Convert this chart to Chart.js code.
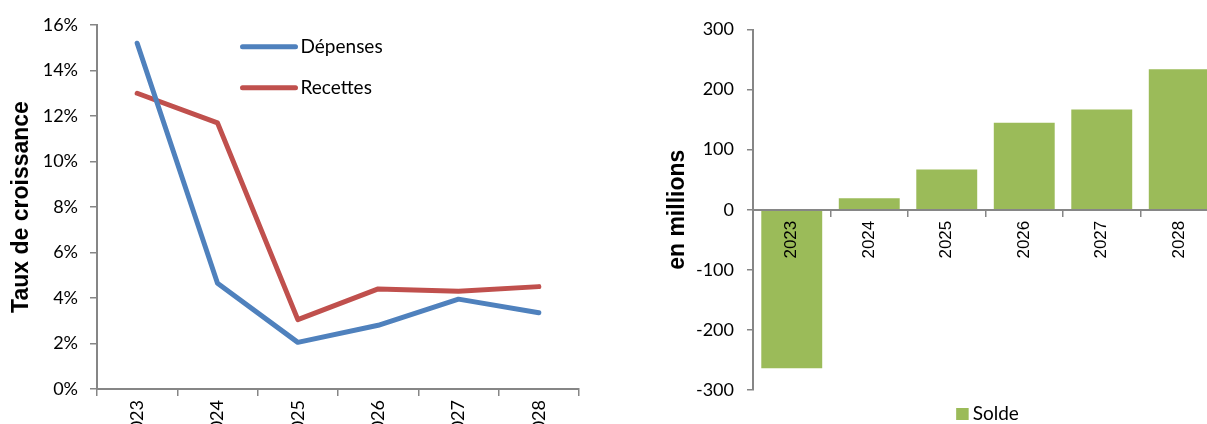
<!DOCTYPE html>
<html>
<head>
<meta charset="utf-8">
<script src="https://cdn.jsdelivr.net/npm/chart.js@4"></script>
<style>
  html, body { margin: 0; padding: 0; background: #fff; overflow: hidden; width: 1207px; height: 424px; }
  canvas { position: absolute; top: 0; }
  #taux { left: 0; }
  #solde { left: 640px; }
</style>
</head>
<body>
<canvas id="taux" width="600" height="445"></canvas>
<canvas id="solde" width="600" height="424"></canvas>
<script>
const years = ['2023', '2024', '2025', '2026', '2027', '2028'];
const depenses = [15.2, 4.65, 2.05, 2.8, 3.95, 3.35];
const recettes = [13.0, 11.7, 3.05, 4.4, 4.3, 4.5];
const solde = [-264, 19, 67, 145, 167, 234];

const axisGrey = '#868686';
Chart.defaults.font.family = 'Lato';
Chart.defaults.color = '#000';

// legend drawn at a fixed spot relative to the plot area
const inlineLegend = {
  id: 'inlineLegend',
  afterDraw(chart, args, opts) {
    const { ctx, chartArea } = chart;
    ctx.save();
    ctx.font = opts.font;
    ctx.textBaseline = 'middle';
    chart.data.datasets.forEach((ds, i) => {
      if (opts.kind === 'line') {
        const x = chartArea.left + opts.dx;
        const y = chartArea.top + opts.dy + i * opts.rowGap;
        ctx.strokeStyle = ds.borderColor;
        ctx.lineWidth = 5;
        ctx.lineCap = 'round';
        ctx.beginPath();
        ctx.moveTo(x, y);
        ctx.lineTo(x + opts.sample, y);
        ctx.stroke();
        ctx.fillStyle = '#000';
        ctx.fillText(ds.label, x + opts.sample + 5, y);
      } else {
        const w = 12.5 + 4 + ctx.measureText(ds.label).width;
        const x = (chartArea.left + chartArea.right) / 2 - w / 2 + opts.dx;
        const y = chartArea.bottom + opts.dy;
        ctx.fillStyle = ds.backgroundColor;
        ctx.fillRect(x, y - 6, 12.5, 12);
        ctx.fillStyle = '#000';
        ctx.fillText(ds.label, x + 16.5, y);
      }
    });
    ctx.restore();
  }
};

new Chart(document.getElementById('taux'), {
  type: 'line',
  data: {
    labels: years,
    datasets: [
      { label: 'Dépenses', data: depenses, borderColor: '#4F81BD', borderWidth: 5,
        pointRadius: 0, tension: 0, borderCapStyle: 'round', borderJoinStyle: 'round' },
      { label: 'Recettes', data: recettes, borderColor: '#C0504D', borderWidth: 5,
        pointRadius: 0, tension: 0, borderCapStyle: 'round', borderJoinStyle: 'round' }
    ]
  },
  options: {
    responsive: false,
    animation: false,
    layout: { padding: { top: 25, left: 5, right: 21, bottom: 0 } },
    plugins: {
      legend: { display: false },
      tooltip: { enabled: false },
      inlineLegend: { kind: 'line', font: '19px Lato', dx: 145.5, dy: 21.7, rowGap: 41, sample: 53 }
    },
    scales: {
      x: {
        offset: true,
        grid: { offset: true, drawOnChartArea: false, tickLength: 7, color: axisGrey, lineWidth: 1.5 },
        border: { color: axisGrey, width: 2 },
        ticks: { minRotation: 90, maxRotation: 90, autoSkip: false, padding: 4, font: { size: 18 } },
        afterFit: (s) => { s.height = 56; }
      },
      y: {
        min: 0, max: 16,
        grid: { drawOnChartArea: false, tickLength: 7, color: axisGrey, lineWidth: 1.5 },
        border: { color: axisGrey, width: 2 },
        ticks: { stepSize: 2, padding: 12, font: { size: 18 }, callback: (v) => v + '%' },
        title: { display: true, text: 'Taux de croissance', padding: { top: 3, bottom: 4 },
          font: { family: 'Liberation Sans', size: 23, weight: 'bold' } },
        afterFit: (s) => { s.width = 92; }
      }
    }
  },
  plugins: [inlineLegend]
});

new Chart(document.getElementById('solde'), {
  type: 'bar',
  data: {
    labels: years,
    datasets: [
      { label: 'Solde', data: solde, backgroundColor: '#9BBB59',
        barPercentage: 0.786, categoryPercentage: 1 }
    ]
  },
  options: {
    responsive: false,
    animation: false,
    layout: { padding: { top: 29.5, left: 21, right: 22, bottom: 34 } },
    plugins: {
      legend: { display: false },
      tooltip: { enabled: false },
      inlineLegend: { kind: 'box', font: '19px Lato', dx: 2, dy: 24 }
    },
    scales: {
      x: {
        position: { y: 0 },
        grid: { offset: true, drawOnChartArea: false, tickLength: 6, color: axisGrey, lineWidth: 1.5, z: 1 },
        border: { color: axisGrey, width: 2, z: 1 },
        ticks: { minRotation: 90, maxRotation: 90, autoSkip: false, padding: 5, z: 1,
          font: { family: 'Liberation Sans', size: 17 } }
      },
      y: {
        min: -300, max: 300,
        grid: { drawOnChartArea: false, tickLength: 6, color: axisGrey, lineWidth: 1.5 },
        border: { color: axisGrey, width: 2 },
        ticks: { stepSize: 100, padding: 13, font: { size: 18 } },
        title: { display: true, text: 'en millions', padding: { top: 3, bottom: 4 },
          font: { family: 'Liberation Sans', size: 23, weight: 'bold' } },
        afterFit: (s) => { s.width = 92; }
      }
    }
  },
  plugins: [inlineLegend]
});
</script>
</body>
</html>
